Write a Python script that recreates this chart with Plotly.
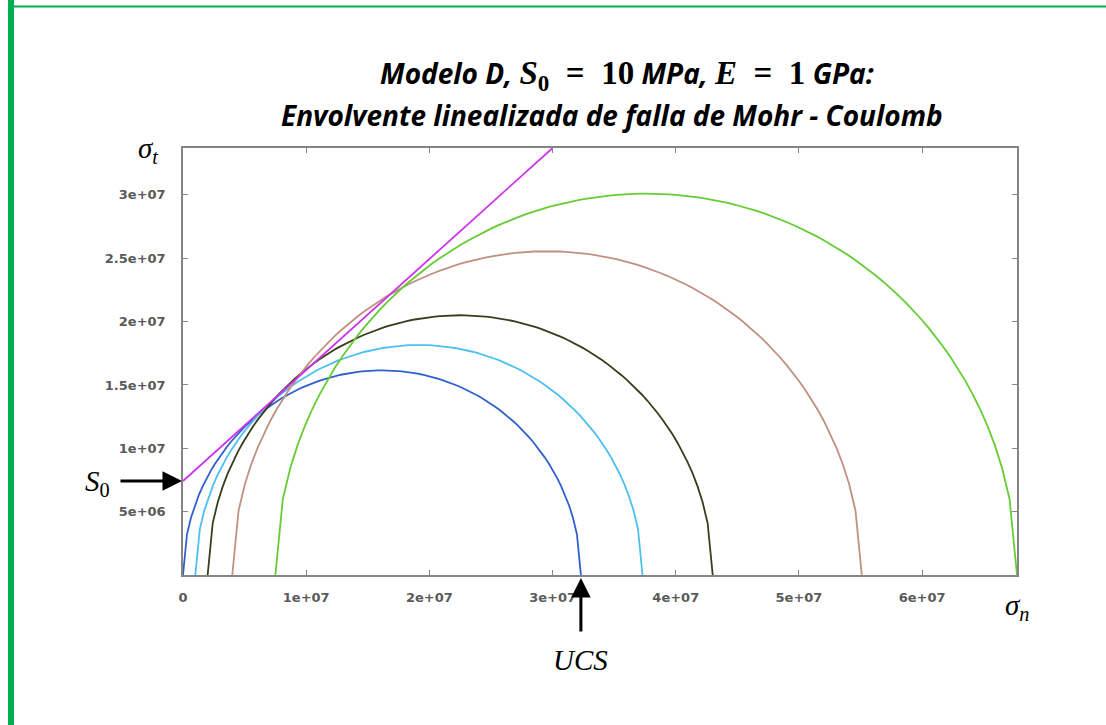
import numpy as np
import plotly.graph_objects as go

# Mohr circles: minor / major principal stresses at failure (Pa)
sigma3 = [0.0, 1.0e6, 2.0e6, 4.0e6, 7.5e6]
sigma1 = [3.23e7, 3.73e7, 4.30e7, 5.51e7, 6.77e7]
circle_colors = ["#3060cc", "#4cc0f0", "#3c3c1c", "#c09080", "#66cc33"]

# Linearised Mohr-Coulomb envelope (sigma_n, tau)
env_sn = [0.0, 3.0e7]
env_tau = [7.42e6, 3.37e7]

x_ticks = [0, 1e7, 2e7, 3e7, 4e7, 5e7, 6e7]
x_ticktext = ["0", "1e+07", "2e+07", "3e+07", "4e+07", "5e+07", "6e+07"]
y_ticks = [5e6, 1e7, 1.5e7, 2e7, 2.5e7, 3e7]
y_ticktext = ["5e+06", "1e+07", "1.5e+07", "2e+07", "2.5e+07", "3e+07"]

N_PTS = 101  # evenly spaced normal-stress samples per circle

fig = go.Figure()
for s3, s1, col in zip(sigma3, sigma1, circle_colors):
    c = 0.5 * (s1 + s3)
    r = 0.5 * (s1 - s3)
    sn = np.linspace(s3, s1, N_PTS)
    tau = np.sqrt(np.clip(r * r - (sn - c) ** 2, 0.0, None))
    fig.add_trace(go.Scatter(x=sn, y=tau, mode="lines",
                             line=dict(color=col, width=1.8), hoverinfo="skip"))

fig.add_trace(go.Scatter(x=env_sn, y=env_tau, mode="lines",
                         line=dict(color="#cc33ee", width=1.8), hoverinfo="skip"))

W, H = 1106, 725
L, R, T, B = 183, 1017, 148, 575


def px(xp):
    return (xp - L) / (R - L)


def py(yp):
    return (B - yp) / (B - T)


axis_common = dict(showgrid=False, zeroline=False, showline=True, linecolor="#858585",
                   linewidth=1.5, mirror="allticks", ticks="inside", ticklen=5,
                   tickcolor="#858585", tickwidth=1.2,
                   tickfont=dict(family="DejaVu Sans", size=13, color="#5a5a5a",
                                 weight="bold"))

fig.update_xaxes(range=[0, max(sigma1)], tickvals=x_ticks, ticktext=x_ticktext,
                 ticklabelstandoff=10, **axis_common)
fig.update_yaxes(range=[0, max(env_tau)], tickvals=y_ticks, ticktext=y_ticktext,
                 ticklabelstandoff=13, **axis_common)

serif = "Liberation Serif"
title_font = "Open Sans"
math = f"font-family:{serif};font-size:33px"
annotations = [
    dict(x=px(627), y=py(75), xref="paper", yref="paper", showarrow=False,
         xanchor="center", yanchor="middle",
         text=("<b><i>Modelo D, </i></b>"
               f"<span style='{math}'><b><i>S</i><sub>0</sub>  =  10</b></span>"
               "<b><i> MPa, </i></b>"
               f"<span style='{math}'><b><i>E</i>  =  1</b></span>"
               "<b><i> GPa:</i></b>"),
         font=dict(family=title_font, size=28, color="#000000")),
    dict(x=px(612), y=py(115), xref="paper", yref="paper", showarrow=False,
         xanchor="center", yanchor="middle",
         text="<b><i>Envolvente linealizada de falla de Mohr - Coulomb</i></b>",
         font=dict(family=title_font, size=28, color="#000000")),
    dict(x=px(148), y=py(150), xref="paper", yref="paper", showarrow=False,
         xanchor="center", yanchor="middle", text="<i>σ<sub>t</sub></i>",
         font=dict(family=serif, size=29, color="#000000")),
    dict(x=px(1017), y=py(607), xref="paper", yref="paper", showarrow=False,
         xanchor="center", yanchor="middle", text="<i>σ<sub>n</sub></i>",
         font=dict(family=serif, size=29, color="#000000")),
    dict(x=px(97), y=py(483), xref="paper", yref="paper", showarrow=False,
         xanchor="center", yanchor="middle", text="<i>S</i><sub>0</sub>",
         font=dict(family=serif, size=29, color="#000000")),
    dict(x=sigma1[0], y=py(660), xref="x", yref="paper", showarrow=False,
         xanchor="center", yanchor="middle", text="<i>UCS</i>",
         font=dict(family=serif, size=29, color="#000000")),
    # arrow to the envelope intercept on the tau axis
    dict(x=0, y=env_tau[0], xref="x", yref="y", text="", showarrow=True,
         ax=-64, ay=0, axref="pixel", ayref="pixel", arrowhead=2, arrowsize=1.3,
         arrowwidth=3, arrowcolor="#000000", standoff=1),
    # arrow to the uniaxial compressive strength on the sigma_n axis
    dict(x=sigma1[0], y=py(578), xref="x", yref="paper", text="", showarrow=True,
         ax=0, ay=55, axref="pixel", ayref="pixel", arrowhead=2, arrowsize=1.3,
         arrowwidth=3, arrowcolor="#000000", standoff=0),
]

green = "#00b050"
shapes = [
    dict(type="rect", xref="paper", yref="paper", x0=px(8), x1=px(14), y0=py(W), y1=py(0),
         fillcolor=green, line=dict(width=0), layer="above"),
    dict(type="line", xref="paper", yref="paper", x0=px(8), x1=px(W), y0=py(6.5), y1=py(6.5),
         line=dict(color=green, width=2), layer="above"),
]

fig.update_layout(width=W, height=H, margin=dict(l=L, r=W - R, t=T, b=H - B),
                  paper_bgcolor="white", plot_bgcolor="white", showlegend=False,
                  annotations=annotations, shapes=shapes)

fig.write_html("out.html")
